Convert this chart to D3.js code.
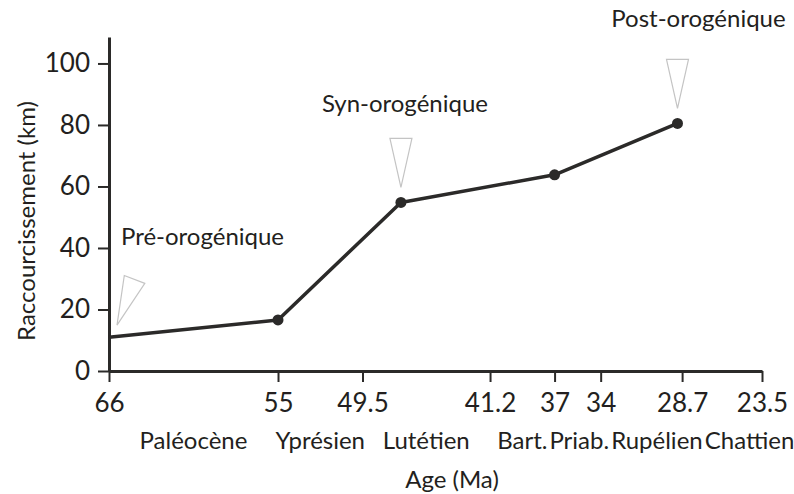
<!DOCTYPE html>
<html>
<head>
<meta charset="utf-8">
<script src="https://cdn.jsdelivr.net/npm/d3@7"></script>
<style>
    body { margin: 0; background: #fff; }
    text { font-family: Lato, "Open Sans", sans-serif; fill: #231f20; }
</style>
</head>
<body>
<svg id="chart" width="794" height="494"></svg>
<script>
// Data.
const ages = [66, 55, 47, 37, 29];
const shortening = [11, 16.6, 54.8, 63.8, 80.5];
const yTicks = [0, 20, 40, 60, 80, 100];
const ageTicks = [66, 55, 49.5, 41.2, 37, 34, 28.7, 23.5];
const stages = ['Paléocène', 'Yprésien', 'Lutétien', 'Bart.', 'Priab.', 'Rupélien', 'Chattien'];
const phases = ['Pré-orogénique', 'Syn-orogénique', 'Post-orogénique'];
const phasePoint = [0, 2, 4];

const INK = '#2b2a29';
const svg = d3.select('#chart');

// Scales.
const x = d3.scaleLinear().domain([66, 23.5]).range([109, 762]);
const y = d3.scaleLinear().domain([0, 108.6]).range([371, 37]);

// Y axis.
const gy = svg.append('g')
    .attr('transform', `translate(${x(66)},0)`)
    .call(d3.axisLeft(y).tickValues(yTicks).tickSize(11).tickSizeOuter(0).tickPadding(8));
gy.select('.domain').attr('stroke', INK).attr('stroke-width', 3);
gy.selectAll('.tick line').attr('stroke', INK).attr('stroke-width', 2);
gy.selectAll('.tick text').attr('font-size', 26).attr('font-family', null);

// X axis.
const gx = svg.append('g')
    .attr('transform', `translate(0,${y(0)})`)
    .call(d3.axisBottom(x).tickValues(ageTicks).tickFormat(d => d).tickSize(11).tickSizeOuter(0).tickPadding(12));
gx.select('.domain').attr('stroke', INK).attr('stroke-width', 3);
gx.selectAll('.tick line').attr('stroke', INK).attr('stroke-width', 2);
gx.selectAll('.tick text').attr('font-size', 26).attr('font-family', null);

// Stage names, centred between boundaries, pushed right when they collide.
const stageText = svg.append('g').selectAll('text')
    .data(stages)
    .join('text')
    .attr('font-size', 24)
    .attr('text-anchor', 'middle')
    .attr('y', 449)
    .text(d => d);
let lastRight = -Infinity;
stageText.each(function (d, i) {
    const w = this.getComputedTextLength();
    let cx = (x(ageTicks[i]) + x(ageTicks[i + 1])) / 2;
    if (cx - w / 2 < lastRight + 2) {
        cx = lastRight + 2 + w / 2;
    }
    lastRight = cx + w / 2;
    d3.select(this).attr('x', cx);
});

// Axis titles.
svg.append('text')
    .attr('x', 452)
    .attr('y', 488)
    .attr('text-anchor', 'middle')
    .attr('font-size', 24)
    .text('Age (Ma)');
svg.append('text')
    .attr('transform', 'translate(35,221) rotate(-90)')
    .attr('text-anchor', 'middle')
    .attr('font-size', 24)
    .text('Raccourcissement (km)');

// Line and points.
const pts = ages.map((a, i) => [a, shortening[i]]);
svg.append('path')
    .datum(pts)
    .attr('fill', 'none')
    .attr('stroke', INK)
    .attr('stroke-width', 3.5)
    .attr('stroke-linejoin', 'round')
    .attr('d', d3.line().x(d => x(d[0])).y(d => y(d[1])));
svg.append('g').selectAll('circle')
    .data(pts.slice(1))
    .join('circle')
    .attr('cx', d => x(d[0]))
    .attr('cy', d => y(d[1]))
    .attr('r', 5.5)
    .attr('fill', INK);

// Phase markers: open grey triangles pointing at the curve, with their label.
const markerLayout = [
    {tip: [8, -12], rot: 21, label: [4, -92], anchor: 'start'},
    {tip: [0, -15], rot: 0, label: [4, -90], anchor: 'middle'},
    {tip: [0, -15], rot: 0, label: [21, -96], anchor: 'middle'}
];
phases.forEach((name, i) => {
    const p = pts[phasePoint[i]];
    const px = x(p[0]);
    const py = y(p[1]);
    const m = markerLayout[i];
    svg.append('path')
        .attr('d', 'M0,0L-11,-49L11,-49Z')
        .attr('transform', `translate(${px + m.tip[0]},${py + m.tip[1]}) rotate(${m.rot})`)
        .attr('fill', 'none')
        .attr('stroke', '#c4c4c4')
        .attr('stroke-width', 1.2);
    svg.append('text')
        .attr('x', px + m.tip[0] + m.label[0])
        .attr('y', py + m.label[1])
        .attr('text-anchor', m.anchor)
        .attr('font-size', 24)
        .text(name);
});
</script>
</body>
</html>
